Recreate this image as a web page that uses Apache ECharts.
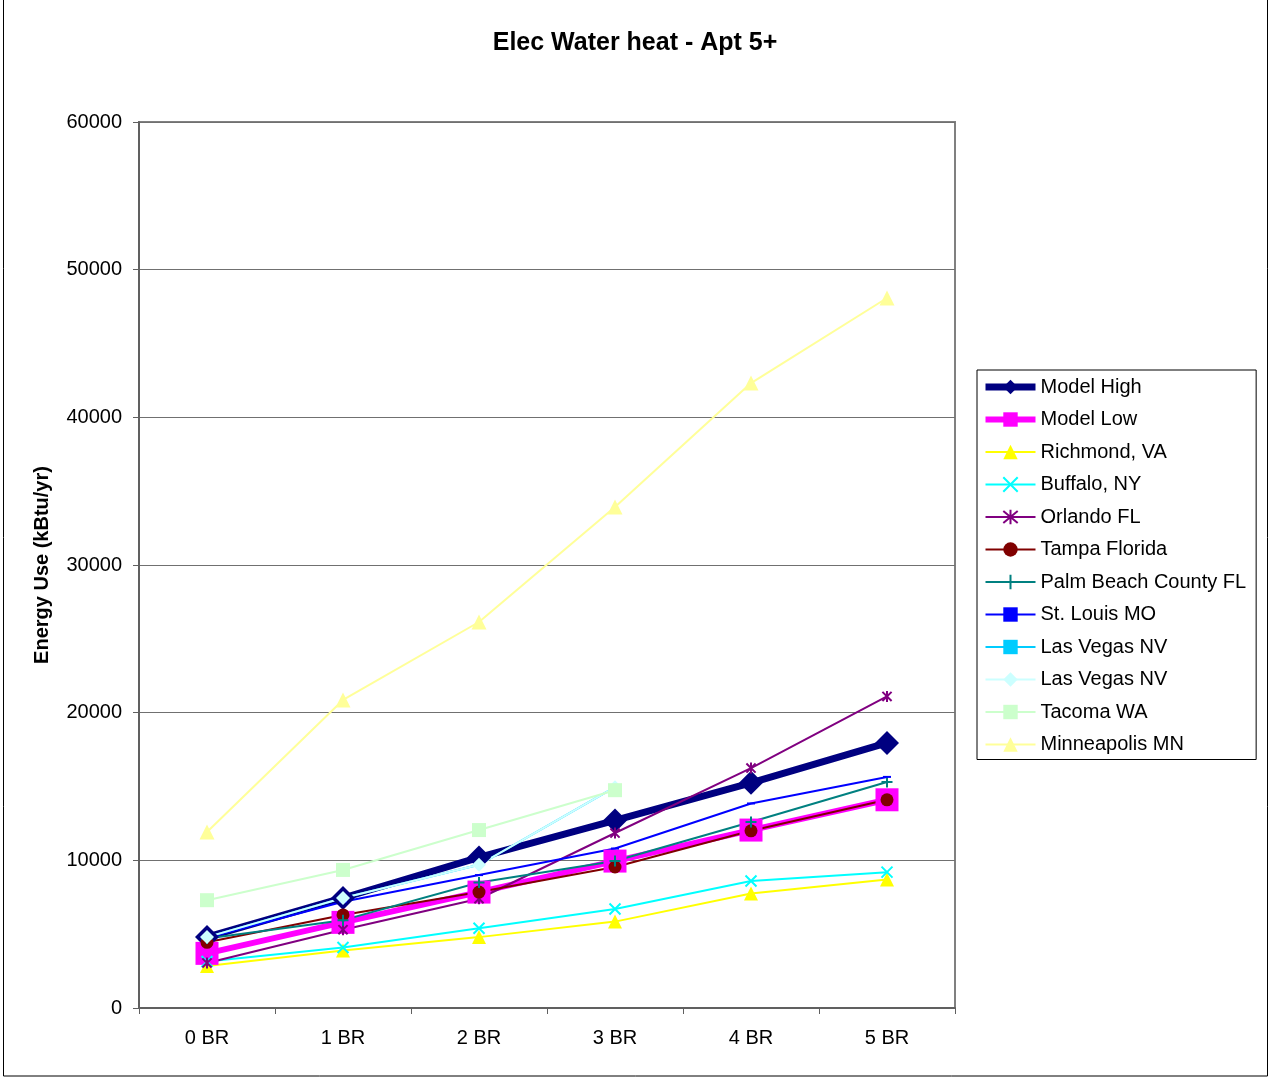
<!DOCTYPE html>
<html>
<head>
<meta charset="utf-8">
<script src="https://cdn.jsdelivr.net/npm/echarts@6/dist/echarts.min.js"></script>
<style>
html,body{margin:0;padding:0;background:#fff;}
#c{width:1270px;height:1078px;}
</style>
</head>
<body>
<div id="c"></div>
<script>
const categories = ['0 BR','1 BR','2 BR','3 BR','4 BR','5 BR'];
const yTicks = [0, 10000, 20000, 30000, 40000, 50000, 60000];

const modelHigh   = [4800, 7450, 10200, 12700, 15250, 17950];
const modelLow    = [3700, 5800, 7850, 9950, 12050, 14100];
const richmond    = [2850, 3900, 4800, 5850, 7750, 8700];
const buffalo     = [3150, 4100, 5400, 6700, 8600, 9200];
const orlando     = [3050, 5300, 7400, 11850, 16250, 21100];
const tampa       = [4450, 6300, 7850, 9550, 12000, 14100];
const palmBeach   = [4700, 5950, 8500, 9950, 12600, 15300];
const stLouis     = [4750, 7200, 9000, 10800, 13850, 15650];
const lasVegas1   = [4800, 7450, 9700, 14950, null, null];
const lasVegas2   = [4800, 7450, 9700, 14950, null, null];
const tacoma      = [7300, 9350, 12050, 14750, null, null];
const minneapolis = [11920, 20860, 26140, 33930, 42320, 48080];

const FONT = 'Liberation Sans, Arial, sans-serif';
const X_PATH = 'path://M0,0L10,10M10,0L0,10';
const STAR_PATH = 'path://M0,0L10,10M10,0L0,10M5,-1L5,11';
const PLUS_PATH = 'path://M5,0L5,10M0,5L10,5';
const DASH_PATH = 'path://M0,0L10,0L10,5L0,5Z';

function mk(name, data, color, symbol, size, width, stroke) {
  const s = {
    name: name, type: 'line', data: data,
    symbol: symbol, symbolSize: size, symbolKeepAspect: true,
    lineStyle: {color: color, width: width},
    itemStyle: {color: color},
    emphasis: {disabled: true},
    animation: false,
    showAllSymbol: true
  };
  if (stroke) {
    s.itemStyle = {color: color, borderColor: color, borderWidth: 2};
  }
  return s;
}

const series = [
  mk('Model High', modelHigh, '#000080', 'diamond', 24, 7),
  mk('Model Low', modelLow, '#FF00FF', 'rect', 23, 6),
  mk('Richmond, VA', richmond, '#FFFF00', 'triangle', 14, 2),
  mk('Buffalo, NY', buffalo, '#00FFFF', X_PATH, 11, 2, true),
  mk('Orlando FL', orlando, '#800080', STAR_PATH, 11, 2, true),
  mk('Tampa Florida', tampa, '#800000', 'circle', 13, 2),
  mk('Palm Beach County FL', palmBeach, '#008080', PLUS_PATH, 11, 2, true),
  mk('St. Louis MO', stLouis, '#0000FF', DASH_PATH, [8, 4], 2),
  mk('Las Vegas NV', lasVegas1, '#00CCFF', DASH_PATH, [8, 4], 2),
  mk('Las Vegas NV ', lasVegas2, '#CCFFFF', 'diamond', 14, 2),
  mk('Tacoma WA', tacoma, '#CCFFCC', 'rect', 14, 2),
  mk('Minneapolis MN', minneapolis, '#FFFF99', 'triangle', 15, 2)
];

const chart = echarts.init(document.getElementById('c'), null, {renderer: 'canvas'});
chart.setOption({
  animation: false,
  backgroundColor: '#fff',
  textStyle: {fontFamily: FONT},
  title: {
    text: 'Elec Water heat - Apt 5+',
    left: 'center', top: 31, padding: 0,
    textStyle: {fontFamily: FONT, fontSize: 25, fontWeight: 'bold', color: '#000'}
  },
  graphic: [{
    type: 'rect', silent: true, z: -1,
    shape: {x: 3.5, y: -2, width: 1264, height: 1078},
    style: {fill: 'none', stroke: '#000', lineWidth: 1}
  }],
  legend: {
    orient: 'vertical', left: 977, top: 370,
    padding: [7, 10, 5, 5],
    itemWidth: 50, itemHeight: 18, itemGap: 12.5,
    borderColor: '#000', borderWidth: 1,
    selectedMode: false,
    lineStyle: {width: 'inherit'},
    formatter: function (n) { return n.trim(); },
    textStyle: {fontFamily: FONT, fontSize: 20, lineHeight: 20, color: '#000'},
    data: series.map(s => s.name)
  },
  grid: {
    left: 139, right: 315, top: 122, bottom: 70,
    show: true, borderColor: '#808080', borderWidth: 2, backgroundColor: '#fff'
  },
  xAxis: {
    type: 'category', data: categories, boundaryGap: true,
    axisLine: {lineStyle: {color: '#606060', width: 2}},
    axisTick: {show: true, length: 6, lineStyle: {color: '#606060'}},
    axisLabel: {fontFamily: FONT, fontSize: 20, color: '#000', margin: 20, interval: 0},
    splitLine: {show: false}
  },
  yAxis: {
    type: 'value', min: yTicks[0], max: yTicks[yTicks.length - 1], interval: 10000,
    name: 'Energy Use (kBtu/yr)', nameLocation: 'middle', nameGap: 87,
    nameTextStyle: {fontFamily: FONT, fontSize: 20, fontWeight: 'bold', color: '#000'},
    axisLine: {show: true, lineStyle: {color: '#606060', width: 2}},
    axisTick: {show: true, length: 6, lineStyle: {color: '#606060'}},
    axisLabel: {fontFamily: FONT, fontSize: 20, color: '#000', margin: 17,
      formatter: function (v) { return String(v); }},
    splitLine: {show: true, lineStyle: {color: '#707070', width: 1}}
  },
  series: series
});
</script>
</body>
</html>
